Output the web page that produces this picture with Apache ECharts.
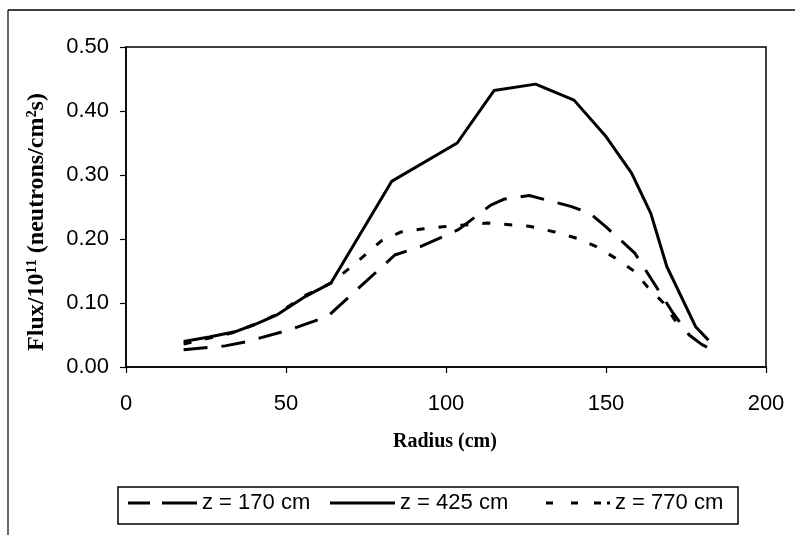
<!DOCTYPE html>
<html>
<head>
<meta charset="utf-8">
<script src="https://cdn.jsdelivr.net/npm/echarts@6/dist/echarts.min.js"></script>
<style>
html,body{margin:0;padding:0;background:#fff;}
#chart{width:795px;height:535px;}
</style>
</head>
<body>
<div id="chart"></div>
<script>
// Series names
var seriesNames = ['z = 170 cm', 'z = 425 cm', 'z = 770 cm'];
// Radius (cm) / Flux pairs
var z170 = [[18,0.027],[31,0.033],[38,0.040],[51,0.058],[63,0.079],[72,0.120],[84,0.175],[92,0.188],[104,0.215],[114,0.253],[118,0.262],[126,0.268],[139,0.251],[145,0.240],[150,0.219],[159,0.178],[166,0.123],[171,0.084],[176,0.050],[180,0.035],[182,0.030]];
var z425 = [[18,0.040],[26,0.047],[34,0.055],[40,0.066],[47,0.081],[56,0.110],[64,0.131],[83,0.290],[103.5,0.350],[115,0.432],[128,0.442],[140,0.417],[150,0.360],[158,0.303],[164,0.240],[169,0.157],[178,0.063],[182,0.042]];
var z770 = [[18,0.036],[33,0.053],[40,0.066],[47,0.082],[56,0.112],[64,0.131],[69,0.151],[74,0.172],[80,0.198],[86,0.211],[93,0.216],[99,0.219],[113,0.225],[126,0.220],[134,0.211],[141,0.201],[147,0.188],[153,0.170],[159,0.149],[163,0.125],[168,0.100],[173,0.062]];
// Axis ranges / ticks
var xTicks = [0, 50, 100, 150, 200];
var yTicks = [0.00, 0.10, 0.20, 0.30, 0.40, 0.50];
var xTitle = 'Radius (cm)';
var yTitle = 'Flux/10\u00b9\u00b9 (neutrons/cm\u00b2s)';

var chart = echarts.init(document.getElementById('chart'), null, {renderer: 'canvas'});
var tickFont = {fontFamily: 'Liberation Sans, Arial, sans-serif', fontSize: 22, color: '#000'};
var legendText = {fontFamily: 'Liberation Sans, Arial, sans-serif', fontSize: 22, color: '#000', padding: [0, 0, 18, 0]};
var legendIcons = [
  'path://M0,0H22V3H0Z M34,0H69V3H34Z',
  'path://M0,0H65V3H0Z',
  'path://M0,0H7V3H0Z M25,0H32V3H25Z M48,0H55V3H48Z M61,0H64V3H61Z'
];
var legendLefts = [128, 330, 546];
var legendWidths = [69, 65, 64];
function mkLegend(i) {
  return {
    left: legendLefts[i], top: 492, padding: 0,
    itemWidth: legendWidths[i], itemHeight: 3,
    symbolKeepAspect: false,
    icon: legendIcons[i],
    itemStyle: {color: '#000', borderWidth: 0},
    lineStyle: {width: 0},
    textStyle: legendText,
    data: [seriesNames[i]]
  };
}
var option = {
  backgroundColor: '#fff',
  animation: false,
  grid: {left: 126, right: 29, top: 47, bottom: 168, show: true, borderColor: '#000', borderWidth: 1.5, backgroundColor: 'transparent'},
  xAxis: {
    type: 'value', min: xTicks[0], max: xTicks[xTicks.length-1], interval: 50,
    axisLine: {lineStyle: {color: '#000', width: 1.5}},
    axisTick: {show: true, inside: false, length: 6, lineStyle: {color: '#000', width: 1.2}},
    axisLabel: Object.assign({margin: 26}, tickFont),
    splitLine: {show: false}
  },
  yAxis: {
    type: 'value', min: yTicks[0], max: yTicks[yTicks.length-1], interval: 0.1,
    axisLine: {show: true, lineStyle: {color: '#000', width: 1.5}},
    axisTick: {show: true, inside: false, length: 6, lineStyle: {color: '#000', width: 1.2}},
    axisLabel: Object.assign({margin: 17, formatter: function(v){return v.toFixed(2);}}, tickFont),
    splitLine: {show: false}
  },
  legend: [mkLegend(0), mkLegend(1), mkLegend(2)],
  graphic: [
    {type: 'line', shape: {x1: 8, y1: 10, x2: 800, y2: 10}, style: {stroke: '#000', lineWidth: 1.5}, silent: true},
    {type: 'line', shape: {x1: 8, y1: 10, x2: 8, y2: 535}, style: {stroke: '#000', lineWidth: 1.2}, silent: true},
    {type: 'rect', shape: {x: 118, y: 487, width: 620, height: 37}, style: {fill: 'none', stroke: '#000', lineWidth: 1.5}, silent: true},
    {type: 'text', x: 445, y: 442, style: {text: xTitle, font: 'bold 20px "Liberation Serif", "Times New Roman", serif', fill: '#000', textAlign: 'center', textVerticalAlign: 'middle'}, silent: true},
    {type: 'text', x: 37, y: 222, rotation: Math.PI/2, style: {text: yTitle, font: 'bold 24px "Liberation Serif", "Times New Roman", serif', fill: '#000', textAlign: 'center', textVerticalAlign: 'middle'}, silent: true}
  ],
  series: [
    {name: seriesNames[0], type: 'line', data: z170, showSymbol: false, symbol: 'none', lineStyle: {color: '#000', width: 3, type: [24, 14]}, itemStyle: {color: '#000'}},
    {name: seriesNames[1], type: 'line', data: z425, showSymbol: false, symbol: 'none', lineStyle: {color: '#000', width: 3, type: 'solid'}, itemStyle: {color: '#000'}},
    {name: seriesNames[2], type: 'line', data: z770, showSymbol: false, symbol: 'none', lineStyle: {color: '#000', width: 3, type: [8, 14]}, itemStyle: {color: '#000'}}
  ]
};
chart.setOption(option);
</script>
</body>
</html>
